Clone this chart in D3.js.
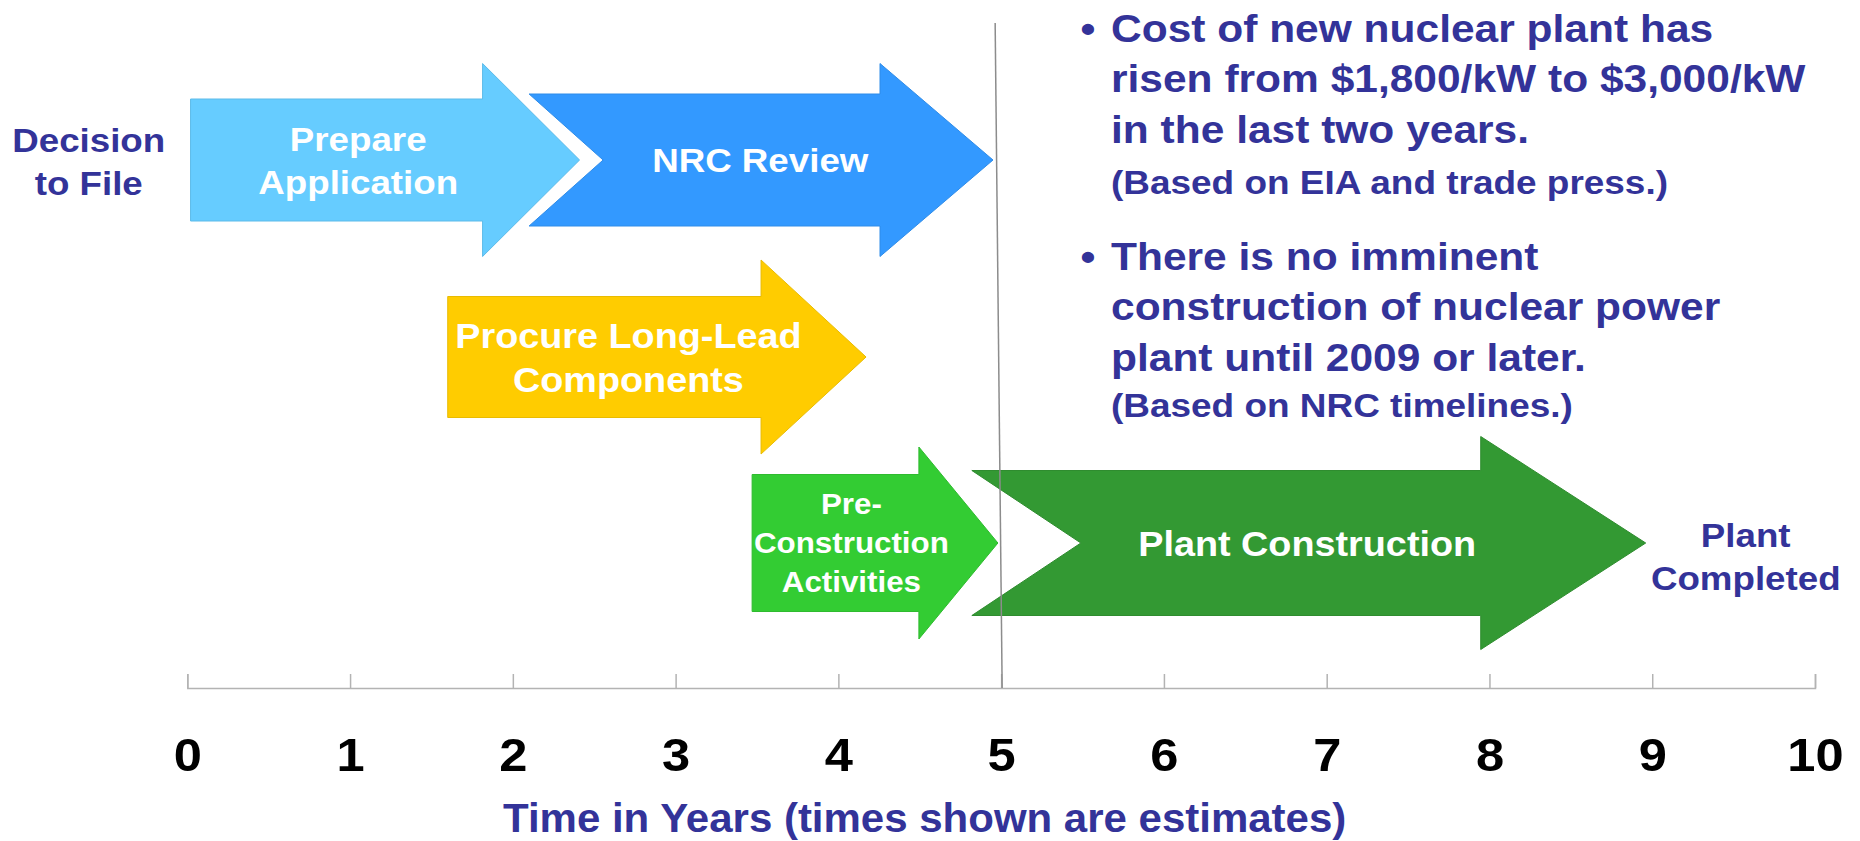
<!DOCTYPE html>
<meta charset="utf-8">
<style>
body { margin: 0; background: #fff; }
svg { display: block; }
text { font-family: "Liberation Sans", Arial, Helvetica, sans-serif; font-weight: bold; }
</style>
<body>
<script src="https://cdn.jsdelivr.net/npm/d3@7"></script>
<script>

// ---- data ----
var tasks     = ["Prepare Application", "NRC Review", "Procure Long-Lead Components", "Pre-Construction Activities", "Plant Construction"];
var taskLines = [["Prepare", "Application"], ["NRC Review"], ["Procure Long-Lead", "Components"], ["Pre-", "Construction", "Activities"], ["Plant Construction"]];
var startYear = [0.02, 2.10, 1.60, 3.47, 4.82];
var endYear   = [2.41, 4.95, 4.17, 4.98, 8.96];
var labelYear = [1.05, 3.52, 2.71, 4.08, 6.88];
var lanes     = ["application", "application", "procurement", "construction", "construction"];

var milestones     = [["Decision", "to File"], ["Plant", "Completed"]];
var milestoneYear  = [0, 9];
var milestoneLanes = ["application", "construction"];

var years = [0, 1, 2, 3, 4, 5, 6, 7, 8, 9, 10];
var markerYear = 5;
var axisTitle = "Time in Years (times shown are estimates)";

var notes = [
  ["Cost of new nuclear plant has", "risen from $1,800/kW to $3,000/kW", "in the last two years."],
  ["There is no imminent", "construction of nuclear power", "plant until 2009 or later."]
];
var noteSources = ["(Based on EIA and trade press.)", "(Based on NRC timelines.)"];

// ---- styles ----
var colors = ["#66CCFF", "#3399FF", "#FFCC00", "#33CC33", "#339933"];
var shapes = [
  {body: 122, head: 193, headLen: 97,  notch: 0,   font: 34, gap: 43},
  {body: 132, head: 193, headLen: 113, notch: 74,  font: 34, gap: 43},
  {body: 121, head: 194, headLen: 105, notch: 0,   font: 35, gap: 44},
  {body: 137, head: 192, headLen: 79,  notch: 0,   font: 29, gap: 39},
  {body: 145, head: 213, headLen: 165, notch: 109, font: 35, gap: 43}
];
var navy = "#333399";
var stretch = 1.08;

var width = 1860, height = 841;

var svg = d3.select("body").append("svg")
    .attr("width", width)
    .attr("height", height);

var x = d3.scaleLinear().domain([0, 10]).range([187.3, 1815]);
var y = d3.scaleOrdinal()
    .domain(["application", "procurement", "construction"])
    .range([160, 357, 543]);

function arrowPath(x0, x1, yc, s) {
  var hb = x1 - s.headLen;
  return "M" + x0 + "," + (yc - s.body / 2) +
    "L" + hb + "," + (yc - s.body / 2) +
    "L" + hb + "," + (yc - s.head / 2) +
    "L" + x1 + "," + yc +
    "L" + hb + "," + (yc + s.head / 2) +
    "L" + hb + "," + (yc + s.body / 2) +
    "L" + x0 + "," + (yc + s.body / 2) +
    "L" + (x0 + s.notch) + "," + yc + "Z";
}

// multi-line centred text, slightly wide like the original slide
function block(g, lines, cx, cy, size, gap, fill, sx) {
  var t = g.append("g")
      .attr("transform", "translate(" + cx + "," + cy + ") scale(" + (sx || stretch) + ",1)");
  lines.forEach(function(line, i) {
    t.append("text")
        .attr("text-anchor", "middle")
        .attr("y", (i - (lines.length - 1) / 2) * gap + size * 0.358)
        .style("font-size", size + "px")
        .style("fill", fill)
        .text(line);
  });
}

// ---- arrows ----
var arrows = svg.append("g").attr("class", "arrows");
tasks.forEach(function(name, i) {
  var yc = y(lanes[i]);
  arrows.append("path")
      .attr("d", arrowPath(x(startYear[i]), x(endYear[i]), yc, shapes[i]))
      .style("fill", colors[i])
      .style("stroke", d3.color(colors[i]).darker(0.25))
      .style("stroke-width", 1);
  block(arrows, taskLines[i], x(labelYear[i]), yc, shapes[i].font, shapes[i].gap, "#fff");
});

// ---- milestones ----
block(svg, milestones[0], x(milestoneYear[0]) - 98.6, y(milestoneLanes[0]) + 1, 34, 43.3, navy);
block(svg, milestones[1], x(milestoneYear[1]) + 93.5, y(milestoneLanes[1]) + 13, 34, 43.3, navy);

// ---- axis ----
var axis = svg.append("g")
    .attr("transform", "translate(0,688)")
    .call(d3.axisBottom(x).tickValues(years).tickSizeInner(-14).tickSizeOuter(-14).tickPadding(50));

axis.select(".domain").style("stroke", "#b3b3b3").style("stroke-width", 1.5);
axis.selectAll(".tick line").style("stroke", "#b3b3b3").style("stroke-width", 1.5);
axis.selectAll(".tick text")
    .attr("transform", "scale(1.1,1)")
    .style("font-size", "46px")
    .style("font-family", "'Liberation Sans', Arial, sans-serif")
    .style("font-weight", "bold")
    .style("fill", "#000");

svg.append("text")
    .attr("transform", "translate(" + x(4.53) + ",832) scale(1.05,1)")
    .attr("text-anchor", "middle")
    .style("font-size", "40px")
    .style("fill", navy)
    .text(axisTitle);

// ---- year-5 marker line ----
svg.append("line")
    .attr("x1", x(markerYear) - 6).attr("y1", 23)
    .attr("x2", x(markerYear) + 1).attr("y2", 688)
    .style("stroke", "#8c8c8c")
    .style("stroke-width", 1.5);

// ---- notes ----
var notesG = svg.append("g");
var baseTop = [41.5, 269.5];
notes.forEach(function(lines, n) {
  var b = baseTop[n];
  notesG.append("text")
      .attr("transform", "translate(1088," + b + ") scale(1.09,1)")
      .attr("text-anchor", "middle")
      .style("font-size", "39px")
      .style("fill", navy)
      .text("\u2022");
  lines.forEach(function(line, i) {
    notesG.append("text")
        .attr("transform", "translate(1111," + (b + i * 50.5) + ") scale(1.09,1)")
        .style("font-size", "39px")
        .style("fill", navy)
        .text(line);
  });
  notesG.append("text")
      .attr("transform", "translate(1111," + (b + 2 * 50.5 + (n === 0 ? 51 : 46)) + ") scale(1.12,1)")
      .style("font-size", "33px")
      .style("fill", navy)
      .text(noteSources[n]);
});

</script>
</body>
